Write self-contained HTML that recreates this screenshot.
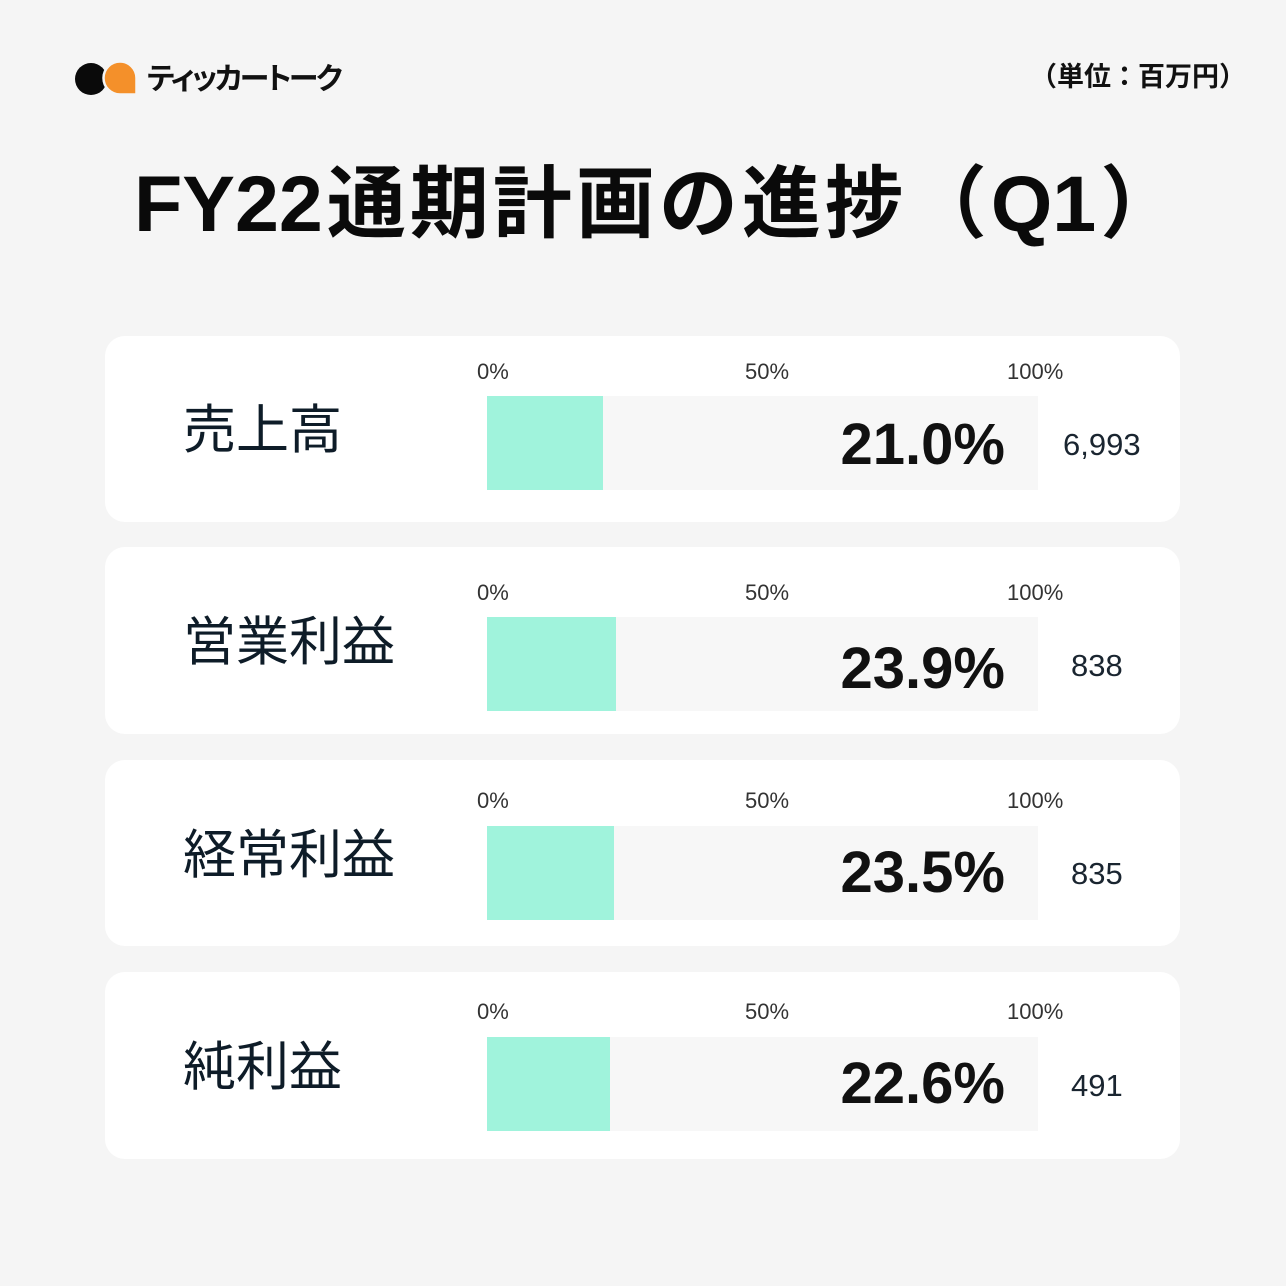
<!DOCTYPE html>
<html><head><meta charset="utf-8">
<style>
html,body{margin:0;padding:0;}
body{width:1286px;height:1286px;background:#f5f5f5;position:relative;overflow:hidden;font-family:"Liberation Sans","Noto Sans CJK JP",sans-serif;}
.a{position:absolute;line-height:1;white-space:nowrap;}
.card{position:absolute;left:105px;width:1075px;background:#fff;border-radius:20px;}
.track{position:absolute;left:487px;width:551px;height:94px;background:#f7f7f7;}
.fill{position:absolute;left:487px;height:94px;background:#a0f3dc;}
.tick{position:absolute;line-height:1;font-size:22px;color:#333;}
.lab{position:absolute;left:183px;line-height:1;font-size:53px;color:#0e1c28;font-weight:400;}
.pct{position:absolute;right:281px;line-height:1;font-size:58px;font-weight:700;color:#111;}
.val{position:absolute;line-height:1;font-size:31px;color:#1a2530;}
</style></head><body>

<svg class="a" style="left:0;top:0" width="160" height="120" viewBox="0 0 160 120">
  <circle cx="91" cy="79" r="16" fill="#0a0a0a"/>
  <path d="M120,61.5 A16.5,16.5 0 1 0 120,94.5 L136.5,94.5 L136.5,78 A16.5,16.5 0 0 0 120,61.5 Z" fill="#f4902a" stroke="#f5f5f5" stroke-width="2.5"/>
</svg>
<div class="a" style="left:147px;top:65px;font-size:30px;font-weight:700;color:#111;letter-spacing:-2.5px;font-feature-settings:'palt';">ティッカートーク</div>
<div class="a" style="left:1030px;top:64px;font-size:27px;font-weight:700;color:#111;">（単位：百万円）</div>

<div class="a" style="left:134px;top:164px;font-size:79px;font-weight:700;color:#0a0a0a;">FY22<span style="letter-spacing:4px;margin-left:4px;">通期計画の進捗（</span>Q1<span style="margin-left:4px;">）</span></div>

<!-- card 1 -->
<div class="card" style="top:336px;height:186px;"></div>
<div class="track" style="top:396px;"></div>
<div class="fill" style="top:396px;width:116px;"></div>
<div class="tick" style="left:477px;top:361px;">0%</div>
<div class="tick" style="left:745px;top:361px;">50%</div>
<div class="tick" style="left:1007px;top:361px;">100%</div>
<div class="lab" style="top:404px;">売上高</div>
<div class="pct" style="top:416px;">21.0%</div>
<div class="val" style="left:1063px;top:429px;">6,993</div>

<!-- card 2 -->
<div class="card" style="top:547px;height:187px;"></div>
<div class="track" style="top:617px;"></div>
<div class="fill" style="top:617px;width:129px;"></div>
<div class="tick" style="left:477px;top:582px;">0%</div>
<div class="tick" style="left:745px;top:582px;">50%</div>
<div class="tick" style="left:1007px;top:582px;">100%</div>
<div class="lab" style="top:616px;">営業利益</div>
<div class="pct" style="top:640px;">23.9%</div>
<div class="val" style="left:1071px;top:650px;">838</div>

<!-- card 3 -->
<div class="card" style="top:760px;height:186px;"></div>
<div class="track" style="top:826px;"></div>
<div class="fill" style="top:826px;width:127px;"></div>
<div class="tick" style="left:477px;top:790px;">0%</div>
<div class="tick" style="left:745px;top:790px;">50%</div>
<div class="tick" style="left:1007px;top:790px;">100%</div>
<div class="lab" style="top:829px;">経常利益</div>
<div class="pct" style="top:844px;">23.5%</div>
<div class="val" style="left:1071px;top:858px;">835</div>

<!-- card 4 -->
<div class="card" style="top:972px;height:187px;"></div>
<div class="track" style="top:1037px;"></div>
<div class="fill" style="top:1037px;width:123px;"></div>
<div class="tick" style="left:477px;top:1001px;">0%</div>
<div class="tick" style="left:745px;top:1001px;">50%</div>
<div class="tick" style="left:1007px;top:1001px;">100%</div>
<div class="lab" style="top:1041px;">純利益</div>
<div class="pct" style="top:1055px;">22.6%</div>
<div class="val" style="left:1071px;top:1070px;">491</div>

</body></html>
